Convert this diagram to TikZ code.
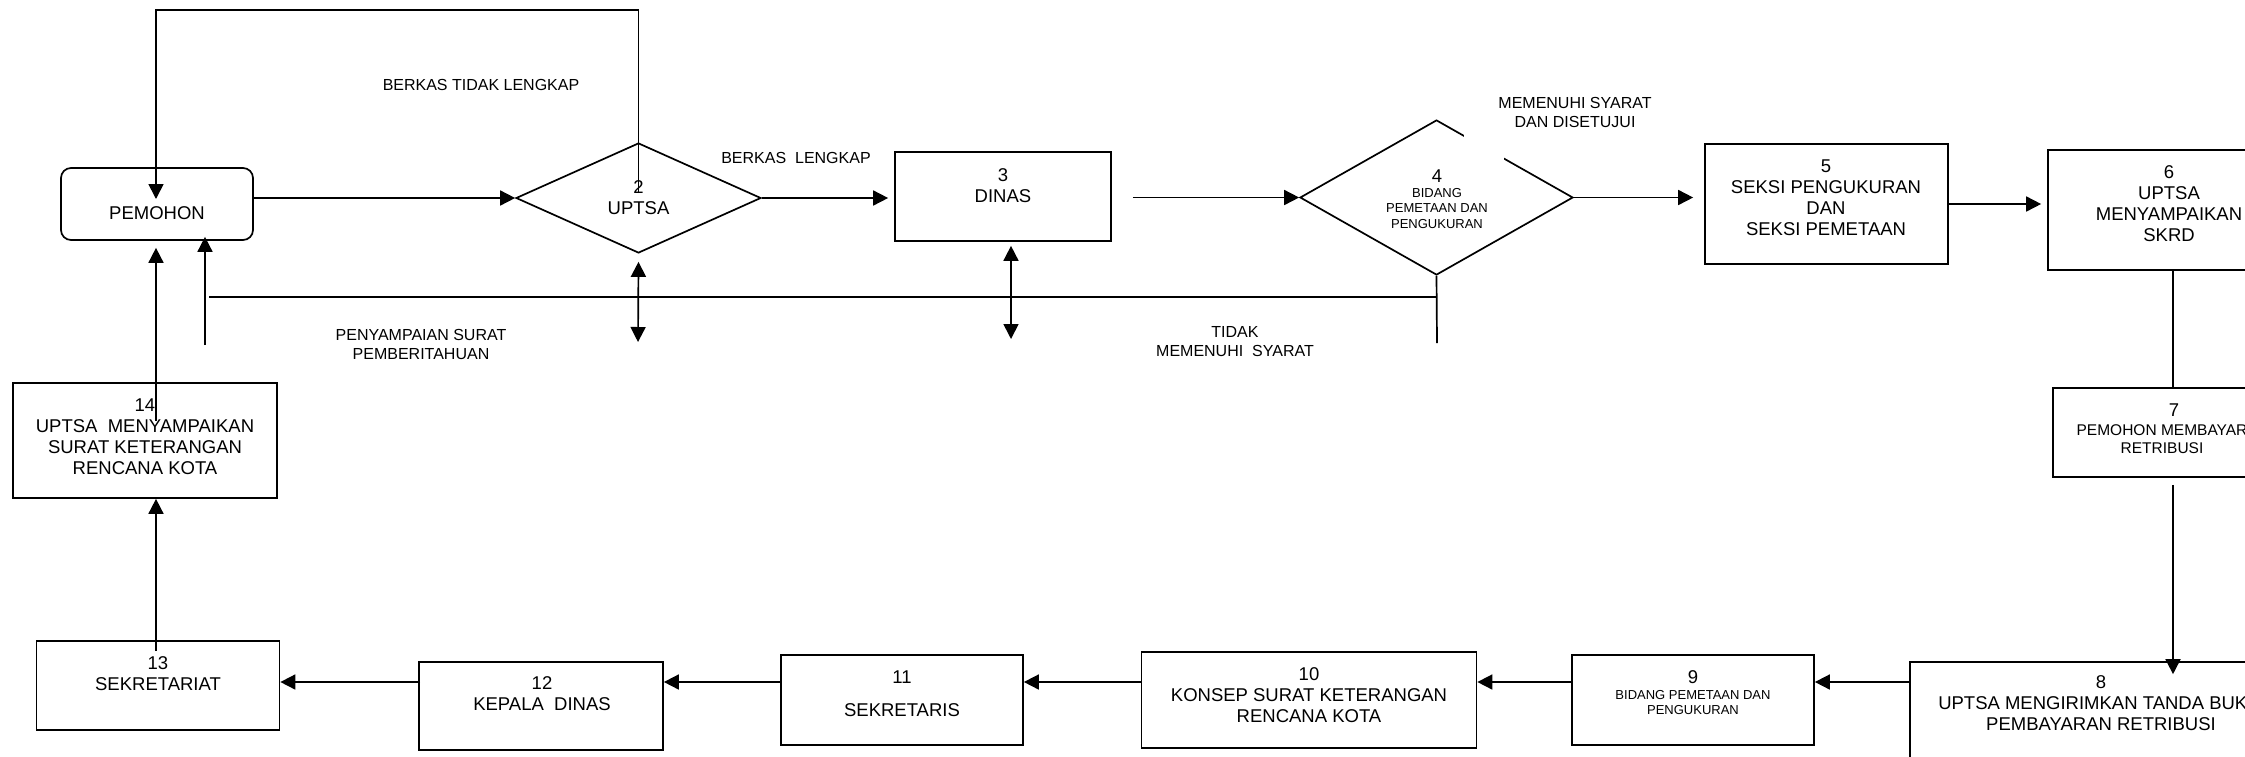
\documentclass[tikz,border=0pt]{standalone}
\usepackage{fontspec}
\setmainfont{Liberation Sans}
\usetikzlibrary{shapes.geometric,arrows.meta,calc}
\newcommand\fmain{\fontsize{18.5}{21}\selectfont}
\newcommand\flbl{\fontsize{16}{19}\selectfont}
\newcommand\fsmall{\fontsize{13}{15.5}\selectfont}
\newcommand\fmid{\fontsize{15.5}{18}\selectfont}
\begin{document}
\begin{tikzpicture}[x=1pt,y=-1pt,line width=1.7pt,
  box/.style={draw, rectangle, inner sep=0pt},
  dia/.style={draw, diamond, inner sep=0pt},
  txt/.style={align=center, inner sep=0pt, font=\fmain},
  lbl/.style={align=center, inner sep=0pt, font=\flbl},
  arr/.style={-{Triangle[length=15pt,width=15pt]}},
  arr2/.style={{Triangle[length=15pt,width=15pt]}-{Triangle[length=15pt,width=15pt]}}]
\useasboundingbox (0,0) rectangle (2245,756);
\clip (0,0) rectangle (2245,756);
\fill[white] (0,0) rectangle (2245,756);

% nodes
\node[box, rounded corners=10pt, minimum width=192pt, minimum height=72pt] (pem) at (157,204) {};
\node[txt] (tpem) at (157,213) {PEMOHON};

\node[dia, minimum width=245pt, minimum height=110pt] (u2) at (638.5,198) {};
\node[txt] (tu2) at (638.5,198) {2\\UPTSA};

\node[box, minimum width=216pt, minimum height=89pt] (n3) at (1003,196.5) {};
\node[txt] (t3) at (1003,185.5) {3\\DINAS};

\node[dia, minimum width=273pt, minimum height=155pt] (d4) at (1436.5,197.5) {};
\fill[white] (1464,134) rectangle (1504,160);
\node[txt] (t4n) at (1437,176) {4};
\node[txt, font=\fsmall] (t4) at (1437,208.5) {BIDANG\\PEMETAAN DAN\\PENGUKURAN};

\node[box, minimum width=243pt, minimum height=120pt] (n5) at (1826.5,204) {};
\node[txt] (t5) at (1826,197.5) {5\\SEKSI PENGUKURAN\\DAN\\SEKSI PEMETAAN};

\node[box, minimum width=242pt, minimum height=120pt] (n6) at (2169,210) {};
\node[txt] (t6) at (2169,204) {6\\UPTSA\\MENYAMPAIKAN\\SKRD};

\node[box, minimum width=218pt, minimum height=89pt] (n7) at (2162,432.5) {};
\node[txt] (t7n) at (2174,410) {7};
\node[txt, font=\fmid] (t7) at (2162,439) {PEMOHON MEMBAYAR\\RETRIBUSI};

\node[box, minimum width=382pt, minimum height=130pt] (n8) at (2101,727) {};
\node[txt] (t8) at (2101,703) {8\\UPTSA MENGIRIMKAN TANDA BUKTI\\PEMBAYARAN RETRIBUSI};

\node[box, minimum width=242pt, minimum height=90pt] (n9) at (1693,700) {};
\node[txt] (t9n) at (1693,677) {9};
\node[txt, font=\fsmall] (t9) at (1693,702.5) {BIDANG PEMETAAN DAN\\PENGUKURAN};

\node[box, minimum width=335pt, minimum height=96pt] (n10) at (1309,700) {};
\node[txt] (t10) at (1309,695.5) {10\\KONSEP SURAT KETERANGAN\\RENCANA KOTA};

\node[box, minimum width=242pt, minimum height=90pt] (n11) at (902,700) {};
\node[txt] (t11) at (902,693.5) {11\\[12pt]SEKRETARIS};

\node[box, minimum width=244pt, minimum height=88pt] (n12) at (541,706) {};
\node[txt] (t12) at (542,694) {12\\KEPALA~~DINAS};

\node[box, minimum width=243pt, minimum height=89pt] (n13) at (158,685.5) {};
\node[txt] (t13) at (158,674) {13\\SEKRETARIAT};

\node[box, minimum width=264pt, minimum height=115pt] (n14) at (145,440.5) {};
\node[txt] (t14) at (145,436.5) {14\\UPTSA~~MENYAMPAIKAN\\SURAT KETERANGAN\\RENCANA KOTA};

% labels
\node[lbl] (lb1) at (481,85) {BERKAS TIDAK LENGKAP};
\node[lbl] (lb2) at (796,158) {BERKAS~~LENGKAP};
\node[lbl] (lb3) at (421,344.5) {PENYAMPAIAN SURAT\\PEMBERITAHUAN};
\node[lbl] (lb4) at (1235,342) {TIDAK\\MEMENUHI~~SYARAT};
\node[lbl] (lb5) at (1575,112.5) {MEMENUHI SYARAT\\DAN DISETUJUI};

% coordinates
\coordinate (topL) at (156,10);
\coordinate (c67) at (2173,0);
\coordinate (row) at (0,682);
\coordinate (colL) at (156,0);
\coordinate (colP) at (205,345);
\coordinate (hl) at (209,297);
\coordinate (stemB) at (1437,343);
\coordinate (u2b) at (638,342);
\coordinate (dn) at (1011,339);

% connectors
\draw[arr] (u2.west -| pem.east) -- (u2.west);
\draw[arr] ($(u2.center)+(0,-5)$) |- (topL) -- ($(pem.center)+(-1,-5)$);
\draw[arr, shorten >=6pt] (u2.east) -- (u2.east -| n3.west);
\draw[arr] ($(d4.west -| n3.east)+(21,0)$) -- (d4.west);
\draw[arr, shorten >=11pt] (d4.east) -- (d4.east -| n5.west);
\draw[arr, shorten >=6pt] (n5.east) -- (n5.east -| n6.west);
\draw (n6.south -| c67) -- (n7.north -| c67);
\draw[arr] ($(n7.south -| c67)+(0,7)$) -- ($(n8.north -| c67)+(0,13)$);
\draw[arr] (n8.west |- row) -- (n9.east |- row);
\draw[arr] (n9.west |- row) -- (n10.east |- row);
\draw[arr] (n10.west |- row) -- (n11.east |- row);
\draw[arr] (n11.west |- row) -- (n12.east |- row);
\draw[arr] ($(n12.west |- row)+(2,0)$) -- (n13.east |- row);
\draw[arr] ($(n13.north -| colL)+(0,11)$) -- (n14.south -| colL);
\draw[arr] ($(n14.north -| colL)+(0,39)$) -- ($(pem.south -| colL)+(0,7)$);
\draw[arr] (colP) -- ($(pem.south -| colP)+(0,-4)$);
\draw (hl) -- (hl -| d4.south);
\draw (d4.south) -- (stemB);
\draw[arr2] ($(u2.south)+(0,8)$) -- (u2b);
\draw[arr2] ($(n3.south -| dn)+(0,4)$) -- (dn);
\end{tikzpicture}
\end{document}
